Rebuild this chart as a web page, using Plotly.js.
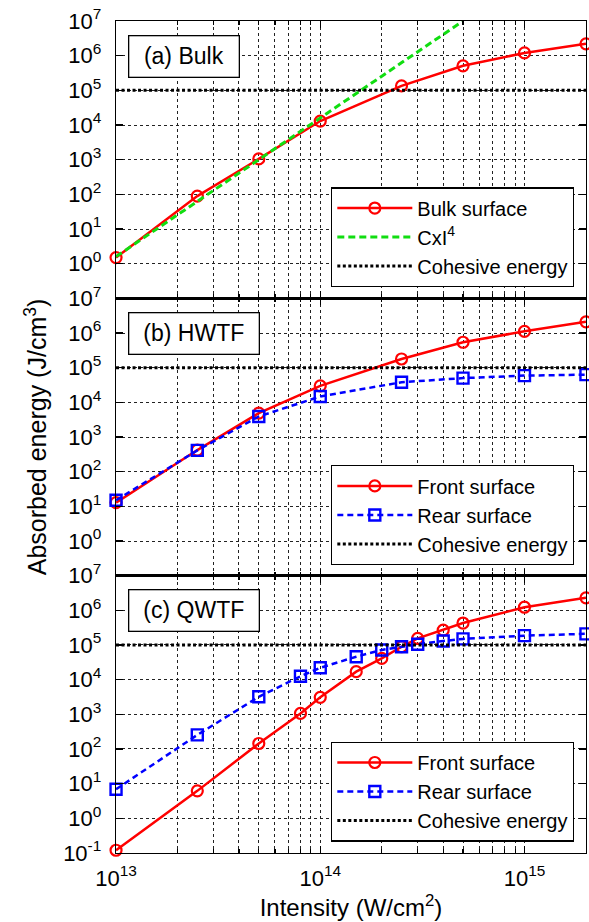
<!DOCTYPE html>
<html>
<head>
<meta charset="utf-8">
<script src="https://cdn.plot.ly/plotly-3.0.1.min.js"></script>
<style>html,body{margin:0;padding:0;background:#fff;}#chart{width:589px;height:922px;}</style>
</head>
<body>
<div id="chart"></div>
<script>
// ---- data ----
const intensity = [1e13, 2.5e13, 5e13, 1e14, 2.5e14, 5e14, 1e15, 2e15];
const bulkSurface = [1.5, 89, 1050, 1.3e4, 1.35e5, 5.1e5, 1.2e6, 2.2e6];
const cxi4Intensity = [1e13, 5e14];
const cxi4Energy = [1.6, 1e7];
const cohesiveIntensity = [1e13, 2e15];
const cohesiveEnergy = [1e5, 1e5];

const hwtfFront = [12.8, 420, 4900, 3.0e4, 1.78e5, 5.4e5, 1.12e6, 2.1e6];
const hwtfRear = [15, 410, 3900, 1.48e4, 3.8e4, 5.0e4, 5.9e4, 6.3e4];

const qwtfIntensity = [1e13, 2.5e13, 5e13, 8e13, 1e14, 1.5e14, 2e14, 2.5e14, 3e14, 4e14, 5e14, 1e15, 2e15];
const qwtfFront = [0.12, 6.2, 144, 1060, 3.1e3, 1.7e4, 4.1e4, 8.9e4, 1.56e5, 2.7e5, 4.3e5, 1.23e6, 2.3e6];
const qwtfRear = [6.9, 255, 3200, 1.25e4, 2.2e4, 4.6e4, 7.2e4, 8.9e4, 1.05e5, 1.3e5, 1.5e5, 1.86e5, 2.1e5];

const xTickVals = [1e13, 1e14, 1e15];
const xTickText = ['10<sup>13</sup>', '10<sup>14</sup>', '10<sup>15</sup>'];
const xMinorVals = [2e13,3e13,4e13,5e13,6e13,7e13,8e13,9e13,2e14,3e14,4e14,5e14,6e14,7e14,8e14,9e14,2e15];
const yTickValsAB = [1e0,1e1,1e2,1e3,1e4,1e5,1e6,1e7];
const yTickTextAB = ['10<sup>0</sup>','10<sup>1</sup>','10<sup>2</sup>','10<sup>3</sup>','10<sup>4</sup>','10<sup>5</sup>','10<sup>6</sup>','10<sup>7</sup>'];
const yTickValsC = [1e-1].concat(yTickValsAB);
const yTickTextC = ['10<sup>-1</sup>'].concat(yTickTextAB);
const panelLabels = ['(a) Bulk', '(b) HWTF', '(c) QWTF'];

// ---- styles ----
const FONT = '"Liberation Sans", Arial, Helvetica, sans-serif';
const TICK_FS = 22, LEG_FS = 20, LAB_FS = 23;
const RED = '#ff0000', BLUE = '#0000ff', GREEN = '#11dd11';
const redStyle = {mode:'lines+markers', line:{color:RED, width:2.5}, marker:{symbol:'circle-open', size:11, color:RED, line:{width:2.2, color:RED}}, cliponaxis:false};
const blueStyle = {mode:'lines+markers', line:{color:BLUE, width:2.5, dash:'6px,4px'}, marker:{symbol:'square-open', size:11, color:BLUE, line:{width:2.4, color:BLUE}}, cliponaxis:false};
const cohStyle = {mode:'lines', line:{color:'#000', width:3, dash:'3px,2.5px'}};

const traces = [
  Object.assign({x:intensity, y:bulkSurface, name:'Bulk surface', xaxis:'x', yaxis:'y', legend:'legend'}, redStyle),
  {x:cxi4Intensity, y:cxi4Energy, name:'CxI<sup>4</sup>', mode:'lines', line:{color:GREEN, width:3, dash:'7px,4px'}, xaxis:'x', yaxis:'y', legend:'legend'},
  Object.assign({x:cohesiveIntensity, y:cohesiveEnergy, name:'Cohesive energy', xaxis:'x', yaxis:'y', legend:'legend'}, cohStyle),

  Object.assign({x:intensity, y:hwtfFront, name:'Front surface', xaxis:'x2', yaxis:'y2', legend:'legend2'}, redStyle),
  Object.assign({x:intensity, y:hwtfRear, name:'Rear surface', xaxis:'x2', yaxis:'y2', legend:'legend2'}, blueStyle),
  Object.assign({x:cohesiveIntensity, y:cohesiveEnergy, name:'Cohesive energy', xaxis:'x2', yaxis:'y2', legend:'legend2'}, cohStyle),

  Object.assign({x:qwtfIntensity, y:qwtfFront, name:'Front surface', xaxis:'x3', yaxis:'y3', legend:'legend3'}, redStyle),
  Object.assign({x:qwtfIntensity, y:qwtfRear, name:'Rear surface', xaxis:'x3', yaxis:'y3', legend:'legend3'}, blueStyle),
  Object.assign({x:cohesiveIntensity, y:cohesiveEnergy, name:'Cohesive energy', xaxis:'x3', yaxis:'y3', legend:'legend3'}, cohStyle)
];

function xAxis(anchor, showLabels, title) {
  const a = {
    type:'log', range:[12.9998, Math.log10(2e15) + 0.0002], anchor:anchor,
    tickmode:'array', tickvals:xTickVals, ticktext:xTickText, showticklabels:showLabels,
    ticks:'inside', ticklen:7, tickwidth:1.3, tickcolor:'#000',
    showline:true, linecolor:'#000', linewidth:1.3, mirror:'allticks',
    showgrid:true, gridcolor:'#222', gridwidth:1, griddash:'dot', zeroline:false,
    minor:{tickmode:'array', tickvals:xMinorVals, ticks:'inside', ticklen:4, tickwidth:1.1, tickcolor:'#000', showgrid:true, gridcolor:'#222', gridwidth:1, griddash:'dot'},
    tickfont:{family:FONT, size:TICK_FS, color:'#000'}, ticklabelstandoff:5
  };
  if (title) a.title = {text:title, font:{family:FONT, size:24, color:'#000'}, standoff:4};
  return a;
}
function yAxis(anchor, domain, vals, text, title) {
  const a = {
    type:'log', range:[-1, 7], domain:domain, anchor:anchor,
    tickmode:'array', tickvals:vals, ticktext:text,
    ticks:'inside', ticklen:7, tickwidth:1.3, tickcolor:'#000',
    showline:true, linecolor:'#000', linewidth:1.3, mirror:'allticks',
    showgrid:true, gridcolor:'#222', gridwidth:1, griddash:'dot', zeroline:false,
    tickfont:{family:FONT, size:TICK_FS, color:'#000'}, ticklabelstandoff:9
  };
  if (title) a.title = {text:title, font:{family:FONT, size:25, color:'#000'}, standoff:14};
  return a;
}

function legendAt(y) {
  return {x:0.9745, xanchor:'right', y:y, yanchor:'bottom', bgcolor:'#fff', bordercolor:'#000', borderwidth:1.3,
          font:{family:FONT, size:LEG_FS, color:'#000'}, itemwidth:75, tracegroupgap:0};
}

function panelLabel(i, xr, yr, w) {
  return {text:panelLabels[i], xref:xr+' domain', yref:yr+' domain', x:0.025, y:0.951, xanchor:'left', yanchor:'top',
          showarrow:false, bordercolor:'#000', borderwidth:1.3, borderpad:2, bgcolor:'#fff', width:w, height:36,
          font:{family:FONT, size:LAB_FS, color:'#000'}};
}

const layout = {
  width:589, height:922,
  margin:{l:116, r:3, t:21, b:69},
  paper_bgcolor:'#fff', plot_bgcolor:'#fff',
  font:{family:FONT, size:TICK_FS, color:'#000'},
  showlegend:true,
  xaxis: xAxis('y', false),
  xaxis2: xAxis('y2', false),
  xaxis3: xAxis('y3', true, 'Intensity (W/cm<sup>2</sup>)'),
  yaxis: yAxis('x', [2/3, 1], yTickValsAB, yTickTextAB),
  yaxis2: yAxis('x2', [1/3, 2/3], yTickValsAB, yTickTextAB, 'Absorbed energy (J/cm<sup>3</sup>)'),
  yaxis3: yAxis('x3', [0, 1/3], yTickValsC, yTickTextC),
  legend: legendAt(0.680),
  legend2: legendAt(0.346),
  legend3: legendAt(0.0136),
  annotations:[panelLabel(0,'x','y',105), panelLabel(1,'x2','y2',125), panelLabel(2,'x3','y3',125)]
};

Plotly.newPlot('chart', traces, layout, {displayModeBar:false, staticPlot:true});
</script>
</body>
</html>
